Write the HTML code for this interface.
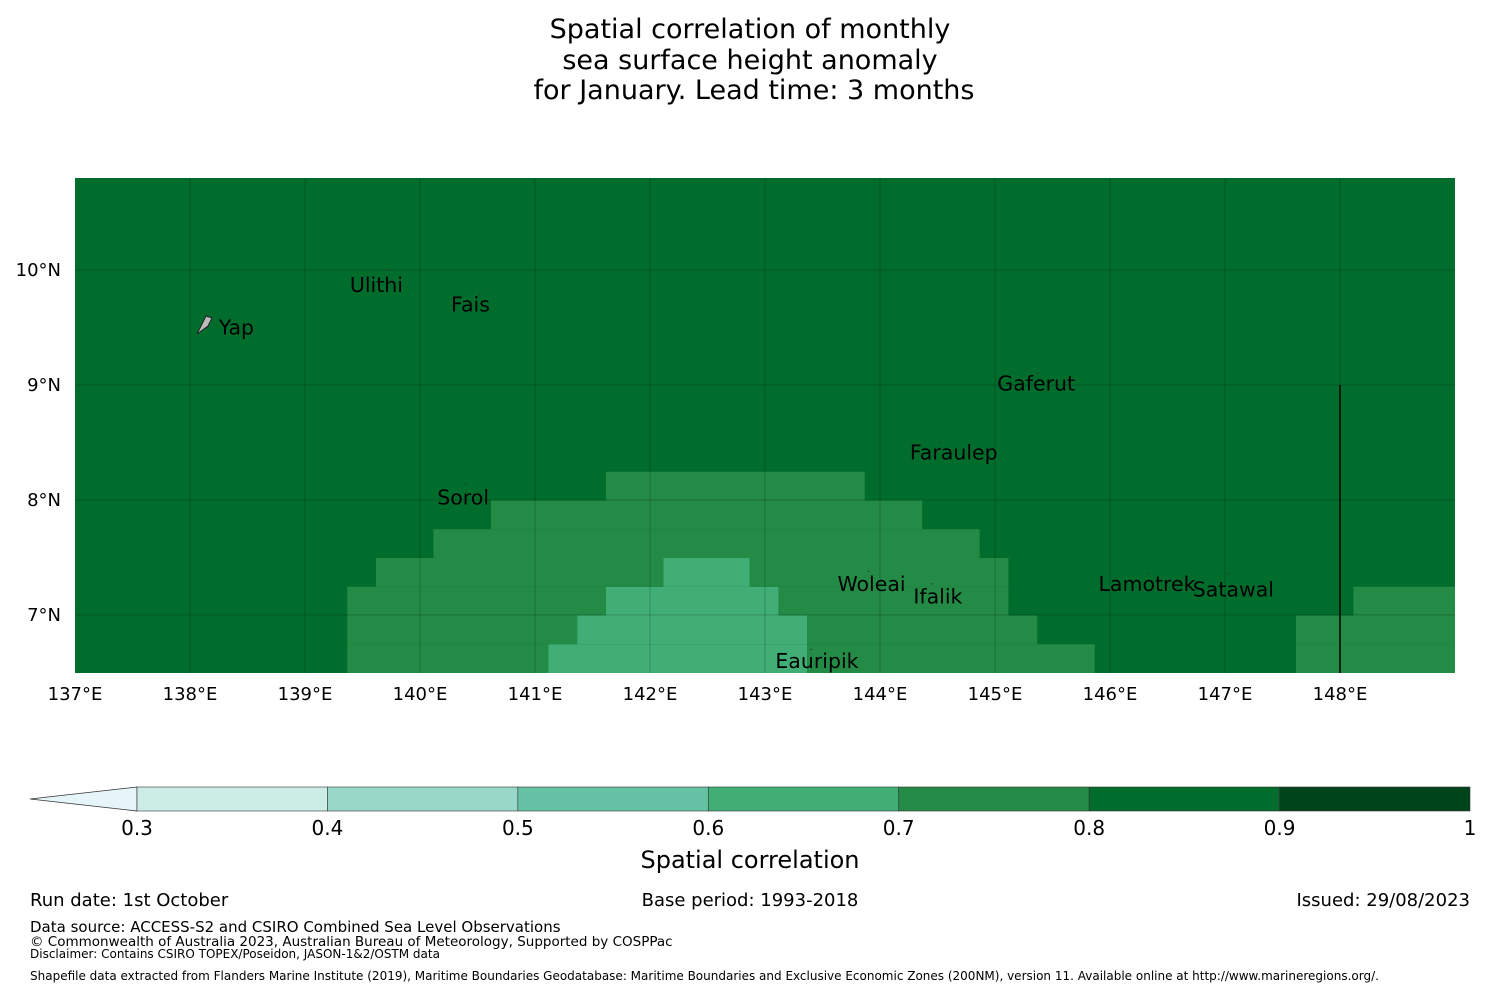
<!DOCTYPE html>
<html><head><meta charset="utf-8"><style>
body{margin:0;background:#fff;font-family:"Liberation Sans","DejaVu Sans",sans-serif;}
svg text{font-family:"DejaVu Sans","Liberation Sans",sans-serif;}
</style></head><body>
<svg id="c" width="1500" height="990" xmlns="http://www.w3.org/2000/svg">
<g font-size="27" text-anchor="middle" fill="#000">
<text x="750" y="38">Spatial correlation of monthly</text>
<text x="750" y="69">sea surface height anomaly</text>
<text x="754" y="99">for January. Lead time: 3 months</text>
</g>
<g id="map"></g>
<g id="cb"></g>
<text x="750" y="868" font-size="24" text-anchor="middle">Spatial correlation</text>
<g font-size="18">
<text x="30" y="906">Run date: 1st October</text>
<text x="750" y="906" text-anchor="middle">Base period: 1993-2018</text>
<text x="1470" y="906" text-anchor="end">Issued: 29/08/2023</text>
<text x="30" y="932" font-size="15">Data source: ACCESS-S2 and CSIRO Combined Sea Level Observations</text>
<text x="30" y="946" font-size="13.5">© Commonwealth of Australia 2023, Australian Bureau of Meteorology, Supported by COSPPac</text>
<text x="30" y="958" font-size="12">Disclaimer: Contains CSIRO TOPEX/Poseidon, JASON-1&amp;2/OSTM data</text>
<text x="30" y="980" font-size="12">Shapefile data extracted from Flanders Marine Institute (2019), Maritime Boundaries Geodatabase: Maritime Boundaries and Exclusive Economic Zones (200NM), version 11. Available online at http://www.marineregions.org/.</text>
</g>
</svg>
<script>
const NS="http://www.w3.org/2000/svg";
// data
const lonTicks=[137,138,139,140,141,142,143,144,145,146,147,148];
const latTicks=[7,8,9,10];
const levels=[0.3,0.4,0.5,0.6,0.7,0.8,0.9,1];
const levelColors=["#ccece6","#99d8c9","#66c2a4","#41ae76","#238b45","#006d2c","#00441b"];
const background=0.85;
// cell rows: [rowIndex(0=southmost), startCol, endCol, value]
const cellRows=[[0,9,16,0.75],[0,16,25,0.65],[0,25,35,0.75],[0,42,48,0.75],
[1,9,17,0.75],[1,17,25,0.65],[1,25,33,0.75],[1,42,48,0.75],
[2,9,18,0.75],[2,18,24,0.65],[2,24,32,0.75],[2,44,48,0.75],
[3,10,20,0.75],[3,20,23,0.65],[3,23,32,0.75],
[4,12,31,0.75],[5,14,29,0.75],[6,18,27,0.75]];
// name, markerLon, markerLat, labelLon, labelLat(baseline)
const islands=[["Ulithi",139.72,10.0,139.39,9.81],["Fais",140.52,9.78,140.27,9.64],["Yap",138.15,9.5,138.25,9.44],
["Gaferut",145.37,9.1,145.02,8.95],["Faraulep",144.53,8.5,144.26,8.35],["Sorol",140.4,8.14,140.15,7.96],
["Woleai",143.9,7.38,143.63,7.21],["Ifalik",144.45,7.27,144.29,7.1],["Lamotrek",146.33,7.36,145.9,7.21],
["Satawal",147.03,7.36,146.72,7.16],["Eauripik",143.4,6.7,143.09,6.54]];
const lonMin=137,lonMax=149,latMin=6.495,latMax=10.8;
const X0=75,X1=1455,Y0=178,Y1=673;
const xs=l=>X0+(l-lonMin)/(lonMax-lonMin)*(X1-X0);
const ys=l=>Y1-(l-latMin)/(latMax-latMin)*(Y1-Y0);
const colEdge=k=>Math.min(lonMax,137.117+0.25*k);
const rowEdge=j=>latMin+0.25*j;
const color=v=>{for(let i=0;i<levels.length-1;i++)if(v>=levels[i]&&v<levels[i+1])return levelColors[i];return levelColors[levelColors.length-1];};
function mk(t,a,p){const e=document.createElementNS(NS,t);for(const k in a)e.setAttribute(k,a[k]);p.appendChild(e);return e;}
const map=document.getElementById('map');
const bg=mk('rect',{x:X0,y:Y0,width:X1-X0,height:Y1-Y0,fill:color(background)},map);


cellRows.forEach(r=>{
 const x=xs(colEdge(r[1])),x2=xs(colEdge(r[2])),y=ys(rowEdge(r[0]+1)),y2=ys(rowEdge(r[0]));
 const e=mk('rect',{x:x,y:y,width:x2-x,height:y2-y,fill:color(r[3])},map);
 
 
});
lonTicks.forEach(l=>{
 const x=xs(l);
 if(l>lonMin){const g=mk('line',{x1:x,x2:x,y1:Y0,y2:Y1,stroke:"#000","stroke-opacity":0.2,"stroke-width":1},map);
 
 }
 const t=mk('text',{x:x,y:700,"font-size":18,"text-anchor":"middle"},map);t.textContent=l+"°E";
 
 
});
latTicks.forEach(l=>{
 const y=ys(l);
 const g=mk('line',{x1:X0,x2:X1,y1:y,y2:y,stroke:"#000","stroke-opacity":0.2,"stroke-width":1},map);
 
 
 const t=mk('text',{x:61,y:y+6,"font-size":18,"text-anchor":"end"},map);t.textContent=l+"°N";
 
 
});
const eez=mk('line',{x1:xs(148),x2:xs(148),y1:ys(9),y2:Y1,stroke:"#000","stroke-width":1.5},map);


const yap=mk('path',{d:"M197,334 L206,316 L212,318 L208,326 Z",fill:"#bbb",stroke:"#222","stroke-width":1},map);


islands.forEach(s=>{
 const d=mk('circle',{cx:xs(s[1]),cy:ys(s[2]),r:0.8,fill:"#333"},map);
 
 
 const t=mk('text',{x:xs(s[3]),y:ys(s[4]),"font-size":20.5},map);t.textContent=s[0];
 
 
});
// colorbar
const cb=document.getElementById('cb');
const cx=v=>137+(v-0.3)/0.7*(1470-137);
const tri=mk('path',{d:"M137,787 L30,799 L137,811 Z",fill:"#e5f5f9",stroke:"#333","stroke-width":0.8},cb);


for(let i=0;i<levels.length-1;i++){
 const r=mk('rect',{x:cx(levels[i]),y:787,width:cx(levels[i+1])-cx(levels[i]),height:24,fill:levelColors[i],stroke:"#333","stroke-width":0.6},cb);
 
 
}
levels.forEach(v=>{
 const t=mk('text',{x:cx(v),y:835,"font-size":20,"text-anchor":"middle"},cb);t.textContent=String(v);
 
 
});
</script>
</body></html>
